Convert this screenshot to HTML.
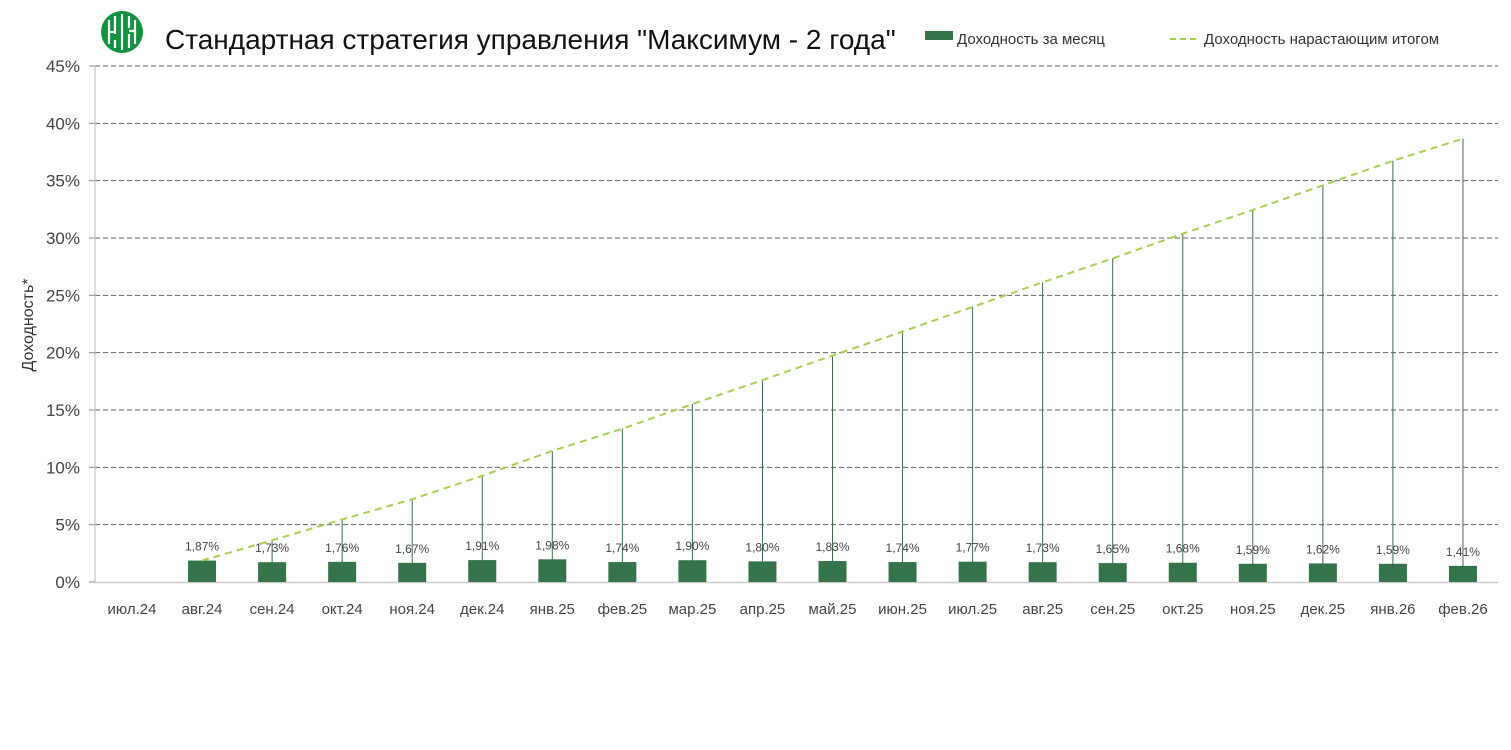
<!DOCTYPE html>
<html><head><meta charset="utf-8"><style>
body{margin:0;background:#fff;width:1511px;height:745px;overflow:hidden;font-family:"Liberation Sans",sans-serif}
</style></head><body>
<svg id="s" width="1511" height="745" xmlns="http://www.w3.org/2000/svg" font-family="Liberation Sans, sans-serif"></svg>
<script>
var s=document.getElementById('s'),h='';
h+='<circle cx="122" cy="32" r="21" fill="#12913f"/>';
h+='<g stroke="#fff" stroke-width="2.2" fill="none"><path d="M109 20 v24 M115 16 v18 M115 40 v8 M122 14 v36 M129 16 v12 M129 34 v14 M135 20 v24 M109 32 h6 M129 31 h6"/></g>';
h+='<text x="165" y="49" font-size="28" fill="#111">Стандартная стратегия управления "Максимум - 2 года"</text>';
h+='<rect x="925" y="31" width="28" height="9" fill="#35734a"/>';
h+='<text x="957" y="44" font-size="15" fill="#333">Доходность за месяц</text>';
h+='<line x1="1170" y1="39" x2="1198" y2="39" stroke="#a8cf52" stroke-width="2" stroke-dasharray="6,4"/>';
h+='<text x="1204" y="44" font-size="15" fill="#333">Доходность нарастающим итогом</text>';
var y0=582,k=516/45;
for(var i=0;i<=9;i++){var y=y0-i*5*k;
 if(i>0)h+='<line x1="95" y1="'+y+'" x2="1498" y2="'+y+'" stroke="#666" stroke-dasharray="5,3"/>';
 h+='<line x1="89" y1="'+y+'" x2="95" y2="'+y+'" stroke="#888"/>';
 h+='<text x="80" y="'+(y+6)+'" font-size="17" fill="#444" text-anchor="end">'+(i*5)+'%</text>';}
h+='<line x1="95" y1="66" x2="95" y2="582" stroke="#bbb"/>';
h+='<line x1="95" y1="582.5" x2="1498" y2="582.5" stroke="#ccc" stroke-width="1.5"/>';
h+='<text transform="translate(33,325) rotate(-90)" font-size="16" fill="#333" text-anchor="middle">Доходность*</text>';
var cats=['июл.24','авг.24','сен.24','окт.24','ноя.24','дек.24','янв.25','фев.25','мар.25','апр.25','май.25','июн.25','июл.25','авг.25','сен.25','окт.25','ноя.25','дек.25','янв.26','фев.26'];
var v=[null,1.87,1.73,1.76,1.67,1.91,1.98,1.74,1.90,1.80,1.83,1.74,1.77,1.73,1.65,1.68,1.59,1.62,1.59,1.41];
var c=1,pts=[];
for(var i=0;i<20;i++){var x=97+35+70.05*i;
 h+='<text x="'+x+'" y="614" font-size="15" fill="#444" text-anchor="middle">'+cats[i]+'</text>';
 if(v[i]==null)continue;
 c*=1+v[i]/100;var cy=y0-(c-1)*100*k,by=y0-v[i]*k;
 pts.push(x+','+cy);
 h+='<line x1="'+x+'" y1="'+y0+'" x2="'+x+'" y2="'+cy+'" stroke="#3a6a45" stroke-width="1"/>';
 h+='<rect x="'+(x-14)+'" y="'+by+'" width="28" height="'+(y0-by)+'" fill="#35734a"/>';
 h+='<text x="'+x+'" y="'+(by-10)+'" font-size="12" fill="#444" text-anchor="middle">'+v[i].toFixed(2).replace('.',',')+'%</text>';}
h+='<polyline points="'+pts.join(' ')+'" fill="none" stroke="#a8cf52" stroke-width="2" stroke-dasharray="7,5"/>';
s.innerHTML=h;
</script>
</body></html>
